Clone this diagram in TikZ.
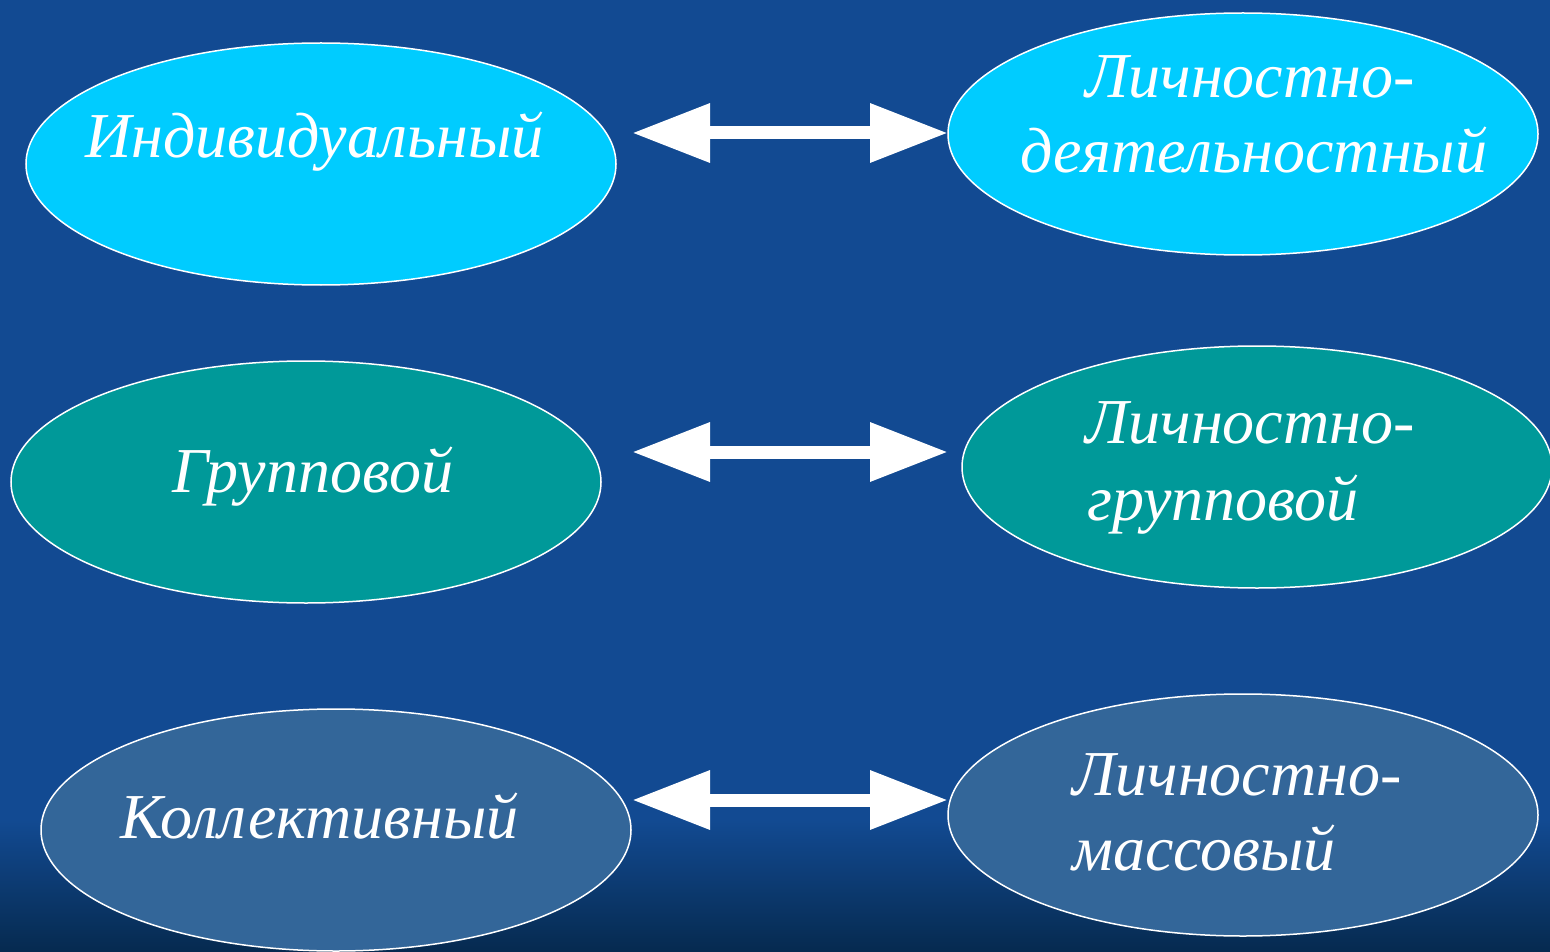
\documentclass[tikz,border=0pt]{standalone}
\usepackage{fontspec}
\setmainfont{Liberation Serif}
\usetikzlibrary{shapes.geometric,arrows.meta,calc}
\definecolor{bgblue}{HTML}{124A92}
\definecolor{bgdark}{HTML}{062A4F}
\definecolor{cyanfill}{HTML}{00CCFF}
\definecolor{tealfill}{HTML}{009999}
\definecolor{steelfill}{HTML}{336699}
\begin{document}
\begin{tikzpicture}[x=1pt,y=-1pt,
  oval/.style={ellipse, draw=white, line width=1.5pt, minimum width=590pt, minimum height=242pt, inner sep=0pt},
  lbl/.style={text=white, font=\fontsize{64}{75}\selectfont\itshape, anchor=base west, inner sep=0pt},
  dblarrow/.style={white, line width=13pt, {Triangle[length=78pt,width=56pt]}-{Triangle[length=78pt,width=56pt]}}]
\useasboundingbox (0,0) rectangle (1550,952);
\fill[bgblue] (0,0) rectangle (1550,952);
\shade[top color=bgblue, bottom color=bgdark] (0,820) rectangle (1550,952);
% ellipses
\node[oval, fill=cyanfill]  (e1) at (321,164) {};
\node[oval, fill=cyanfill]  (e2) at (1243,134) {};
\node[oval, fill=tealfill]  (e3) at (306,482) {};
\node[oval, fill=tealfill]  (e4) at (1257,467) {};
\node[oval, fill=steelfill] (e5) at (336,830) {};
\node[oval, fill=steelfill] (e6) at (1243,815) {};
% labels
\node[lbl] (t1) at (85,158) {Индивидуальный};
\node[lbl] (t2a) at (1085,98) {Личностно-};
\node[lbl] (t2b) at (1020,173) {деятельностный};
\node[lbl] (t3) at (172,492) {Групповой};
\node[lbl] (t4a) at (1085,443) {Личностно-};
\node[lbl] (t4b) at (1087,520) {групповой};
\node[lbl] (t5) at (120,838) {Коллективный};
\node[lbl] (t6a) at (1072,795) {Личностно-};
\node[lbl] (t6b) at (1072,870) {массовый};
% arrows
\coordinate (a1l) at (632,133); \coordinate (a1r) at (948,133);
\coordinate (a2l) at (632,452); \coordinate (a2r) at (948,452);
\coordinate (a3l) at (632,800); \coordinate (a3r) at (948,800);
\draw[dblarrow] (a1l) -- (a1r);
\draw[dblarrow] (a2l) -- (a2r);
\draw[dblarrow] (a3l) -- (a3r);
\end{tikzpicture}
\end{document}
